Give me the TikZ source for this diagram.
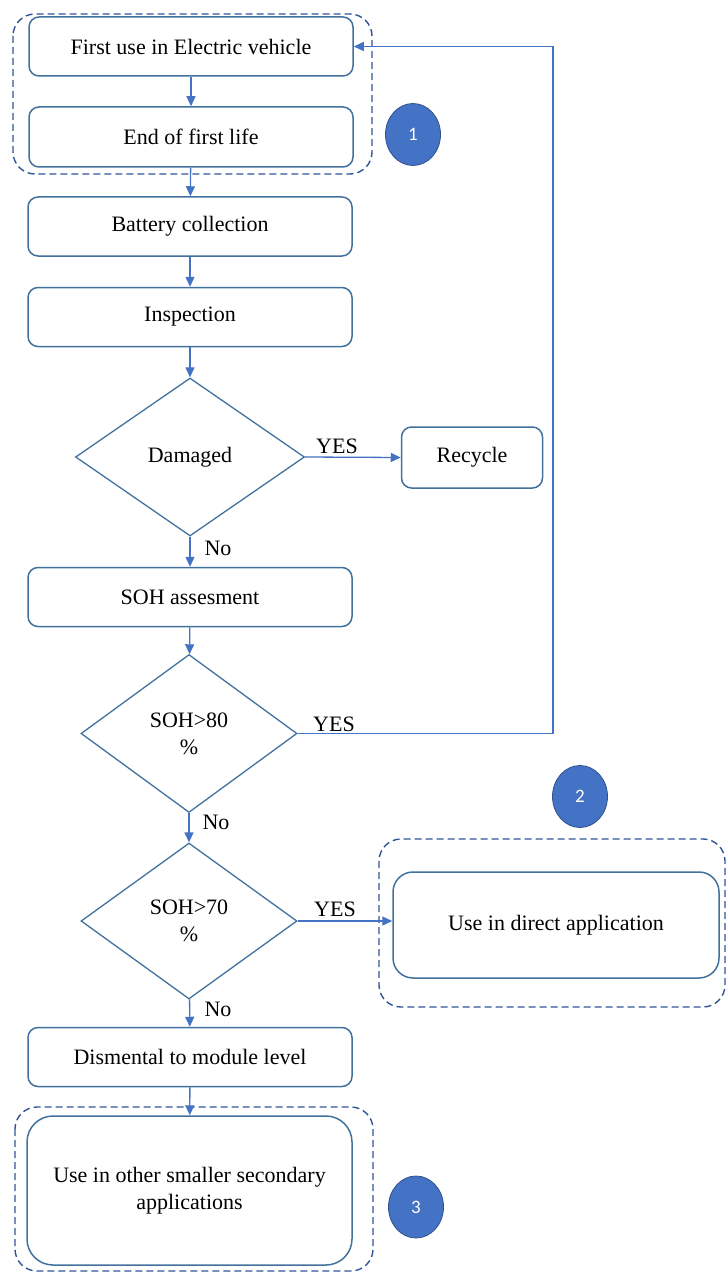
\documentclass[tikz,border=0pt]{standalone}
\usepackage{fontspec}
\setmainfont{Liberation Serif}
\newfontfamily\badgefont{Carlito}
\usetikzlibrary{shapes.geometric,arrows.meta}
\definecolor{boxline}{HTML}{41719C}
\definecolor{conn}{HTML}{4472C4}
\definecolor{dashline}{HTML}{2F5597}
\definecolor{badgefill}{HTML}{4472C4}
\definecolor{badgeline}{HTML}{2F528F}
\begin{document}
\begin{tikzpicture}[x=1pt,y=-1pt,
  every node/.style={font=\fontsize{22}{27}\selectfont},
  stepbox/.style={draw=boxline, line width=1.5pt, rounded corners=10pt,
    minimum width=324pt, minimum height=59pt, inner sep=0pt, align=center},
  decision/.style={draw=boxline, line width=1.3pt, diamond, inner sep=0pt, align=center},
  group/.style={draw=dashline, line width=1.4pt, dash pattern=on 7pt off 4pt, rounded corners=22pt},
  badge/.style={ellipse, fill=badgefill, draw=badgeline, line width=0.8pt,
    minimum width=55pt, minimum height=62pt, inner sep=0pt, text=white,
    font=\badgefont\fontsize{19}{22}\selectfont},
  flow/.style={draw=conn, line width=1.3pt, -{Triangle[length=10pt,width=9pt]}},
  lbl/.style={inner sep=0pt}
]
\useasboundingbox (0,0) rectangle (727,1273);

% dashed groupings
\draw[group] (13,14) rectangle (372,174);
\draw[group] (379,839) rectangle (725,1007);
\draw[group] (15,1107) rectangle (373,1271);

% process steps
\node[stepbox] (b1) at (191,46.5) {First use in Electric vehicle};
\node[stepbox, minimum height=60pt] (b2) at (191,137) {End of first life};
\node[stepbox] (b3) at (190,226.5) {Battery collection};
\node[stepbox] (b4) at (190,317) {Inspection};
\node[decision, minimum width=229pt, minimum height=158pt] (dam) at (190,457) {Damaged};
\node[stepbox, minimum width=141pt, minimum height=61pt] (rec) at (472,457.5) {Recycle};
\node[stepbox] (soh) at (190,597) {SOH assesment};
\node[decision, minimum width=216pt, minimum height=158pt] (d80) at (189,733.5) {SOH>80\\\%};
\node[decision, minimum width=216pt, minimum height=156pt] (d70) at (189,921) {SOH>70\\\%};
\node[stepbox, minimum width=326pt, minimum height=106pt, rounded corners=20pt] (direct) at (556,925) {Use in direct application};
\node[stepbox] (dis) at (190,1057) {Dismental to module level};
\node[stepbox, minimum width=325pt, minimum height=149pt, rounded corners=26pt] (other) at (189.5,1190.5) {Use in other smaller secondary\\applications};

% numbered badges
\node[badge] (n1) at (413,134.5) {1};
\node[badge] (n2) at (580,796.5) {2};
\node[badge] (n3) at (416,1207) {3};

% connectors
\draw[flow] (b1) -- (b2);
\draw[flow] (b2) -- (b3);
\draw[flow] (b3) -- (b4);
\draw[flow] (b4) -- (dam);
\draw[flow] (dam.east) -- (rec.west);
\draw[flow] (dam) -- (soh);
\draw[flow] (soh) -- (d80);
\coordinate (loop) at (553,733.5);
\draw[flow] (d80.east) -- (loop) |- (b1.east);
\draw[flow] (d80) -- (d70);
\draw[flow] (d70.east) -- (d70.east -| direct.west);
\draw[flow] (d70) -- (dis);
\draw[flow] (dis) -- (other);

% branch labels
\node[lbl] (yes1) at (337,446) {YES};
\node[lbl] (no1) at (218,548) {No};
\node[lbl] (yes2) at (334,724) {YES};
\node[lbl] (no2) at (216,822) {No};
\node[lbl] (yes3) at (335,909) {YES};
\node[lbl] (no3) at (218,1009) {No};
\end{tikzpicture}
\end{document}
